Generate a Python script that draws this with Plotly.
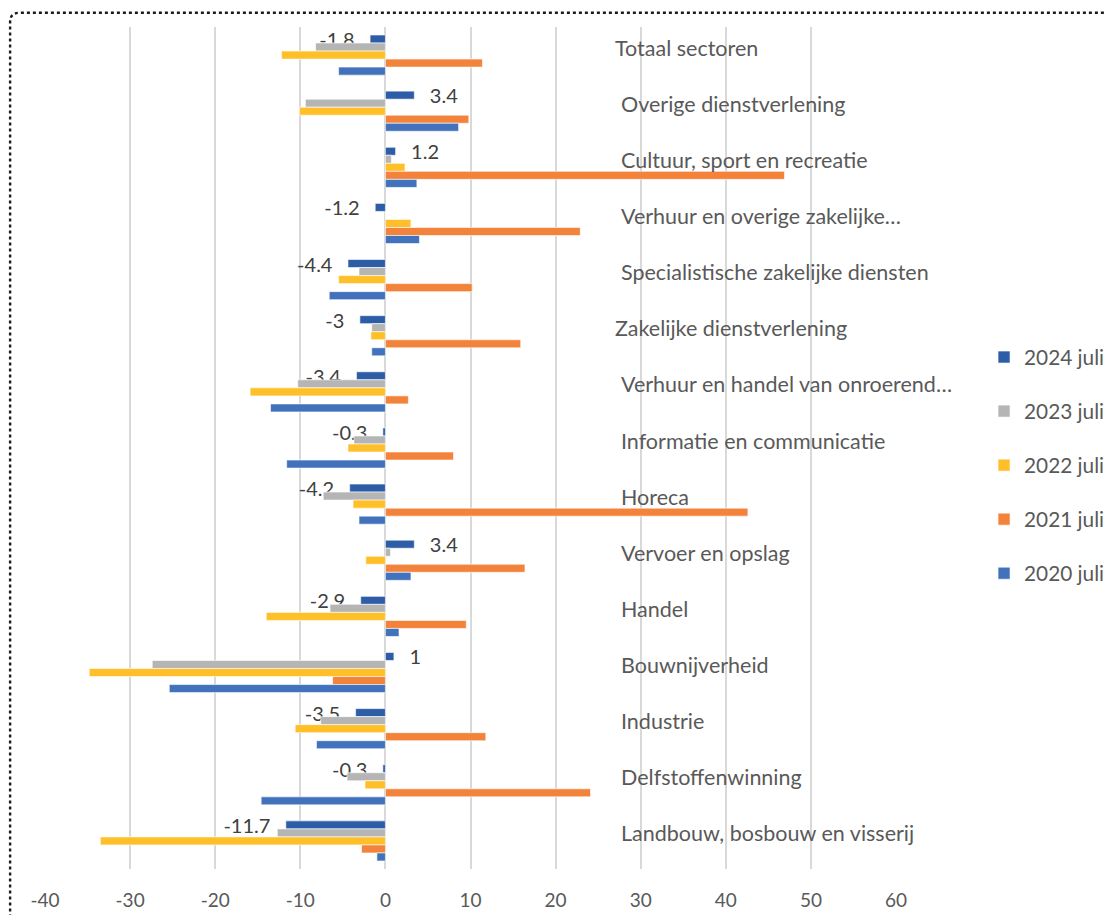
import plotly.graph_objects as go

categories = [
    "Totaal sectoren",
    "Overige dienstverlening",
    "Cultuur, sport en recreatie",
    "Verhuur en overige zakelijke…",
    "Specialistische zakelijke diensten",
    "Zakelijke dienstverlening",
    "Verhuur en handel van onroerend…",
    "Informatie en communicatie",
    "Horeca",
    "Vervoer en opslag",
    "Handel",
    "Bouwnijverheid",
    "Industrie",
    "Delfstoffenwinning",
    "Landbouw, bosbouw en visserij",
]

series_names = ["2024 juli", "2023 juli", "2022 juli", "2021 juli", "2020 juli"]

v2024 = [-1.8, 3.4, 1.2, -1.2, -4.4, -3.0, -3.4, -0.3, -4.2, 3.4, -2.9, 1.0, -3.5, -0.3, -11.7]
v2023 = [-8.2, -9.4, 0.7, 0.0, -3.1, -1.6, -10.3, -3.7, -7.3, 0.6, -6.5, -27.4, -7.6, -4.5, -12.7]
v2022 = [-12.2, -10.1, 2.3, 3.0, -5.5, -1.7, -15.9, -4.4, -3.8, -2.3, -14.0, -34.8, -10.6, -2.4, -33.5]
v2021 = [11.4, 9.8, 46.9, 22.9, 10.2, 15.9, 2.7, 8.0, 42.6, 16.4, 9.5, -6.2, 11.8, 24.1, -2.8]
v2020 = [-5.5, 8.6, 3.7, 4.0, -6.6, -1.6, -13.5, -11.6, -3.1, 3.0, 1.6, -25.4, -8.1, -14.6, -1.0]

x_ticks = [-40, -30, -20, -10, 0, 10, 20, 30, 40, 50, 60]

colors = ["#2E5DA7", "#B5B5B5", "#FFBF29", "#F3823B", "#4172BB"]
all_values = [v2024, v2023, v2022, v2021, v2020]

FONT = "Lato, 'Open Sans', sans-serif"

def label_text(v):
    s = f"{v:g}"
    pad = "\u2002\u2009"
    return s + pad if v < 0 else pad + s

fig = go.Figure()
for i, (name, vals, col) in enumerate(zip(series_names, all_values, colors)):
    kw = {}
    if i == 0:
        kw = dict(
            text=[label_text(v) for v in vals],
            textposition="outside",
            textfont=dict(family=FONT, size=20, color="#404040"),
            constraintext="none",
            cliponaxis=False,
        )
    fig.add_trace(go.Bar(
        y=categories, x=vals, name=name, orientation="h",
        marker=dict(color=col, line=dict(color="white", width=0.6)),
        legendgroup=name, hoverinfo="x+name",
        **kw,
    ))

# category labels as text inside the plot
indent_small = {"Totaal sectoren", "Zakelijke dienstverlening"}
for c in categories:
    fig.add_annotation(
        x=26.8 if c in indent_small else 27.4, y=c, xref="x", yref="y",
        text=c, showarrow=False, xanchor="left", yanchor="middle", yshift=7.5,
        font=dict(family=FONT, size=21.5, color="#595959"),
    )

# dotted rounded chart border (partially outside the visible window)
L, T = -0.041, 1.0169
rx, ry = 0.011, 0.011
fig.add_shape(
    type="path", xref="paper", yref="paper",
    path=f"M {L},-0.3 L {L},{T - ry} Q {L},{T} {L + rx},{T} L 1.5,{T}",
    line=dict(color="#1a1a1a", width=2.4, dash="dot"),
)

fig.update_layout(
    width=1104, height=907,
    margin=dict(l=37, r=216, t=19, b=46, autoexpand=False),
    paper_bgcolor="white", plot_bgcolor="white",
    barmode="group", bargap=0.285, bargroupgap=0,
    font=dict(family=FONT, size=19, color="#595959"),
    showlegend=True,
    legend=dict(
        xref="container", yref="paper",
        x=0.8841, y=0.6318, xanchor="left", yanchor="top",
        traceorder="grouped", tracegroupgap=24,
        font=dict(family=FONT, size=20.8, color="#595959"),
        itemwidth=30, bgcolor="rgba(0,0,0,0)",
    ),
    xaxis=dict(
        range=[-40, 60], tickvals=x_ticks, ticktext=[str(t) for t in x_ticks],
        showgrid=True, gridcolor="#D9D9D9", gridwidth=1.5,
        zeroline=True, zerolinecolor="#D9D9D9", zerolinewidth=1.5,
        showline=False, ticks="", ticklabelstandoff=18, automargin=False,
        tickfont=dict(family=FONT, size=19, color="#595959"),
    ),
    yaxis=dict(
        autorange="reversed", showticklabels=False, showgrid=False,
        zeroline=False, showline=False, ticks="", automargin=False,
    ),
)

fig.write_html("out.html")
